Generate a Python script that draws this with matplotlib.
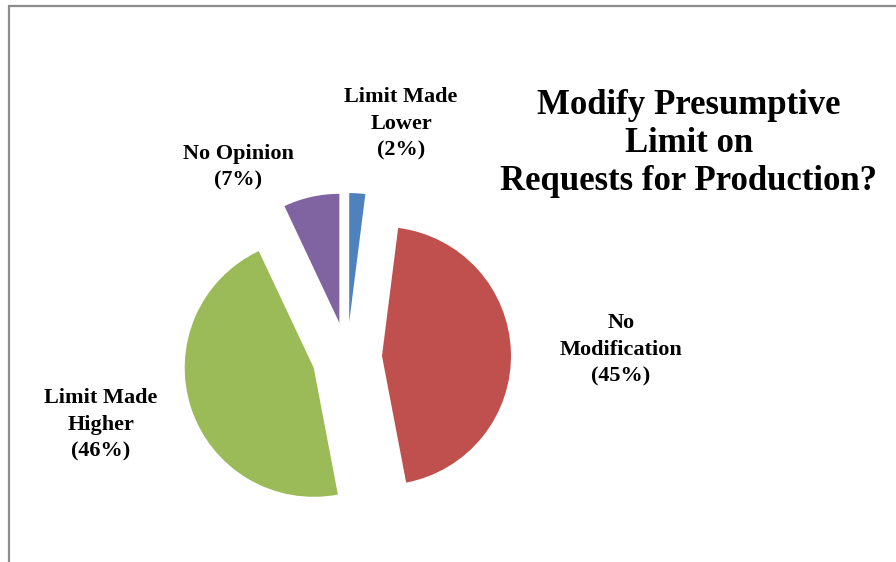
import matplotlib.pyplot as plt
from matplotlib.patches import Rectangle

# Survey answers, clockwise from 12 o'clock
answers = ["Limit Made\nLower", "No\nModification", "Limit Made\nHigher", "No Opinion"]
shares = [2, 45, 46, 7]
colors = ["#4F81BD", "#C0504D", "#9BBB59", "#8064A2"]
title = "Modify Presumptive\nLimit on\nRequests for Production?"

W, H = 896, 562
fig = plt.figure(figsize=(W / 100, H / 100), dpi=100)
ax = fig.add_axes([0, 0, 1, 1])

# pie drawn in pixel units; explode offsets are absolute, not scaled by radius
ax.pie(shares, colors=colors, startangle=90, counterclock=False,
       center=(347, H - 357), radius=129,
       explode=[35, 35, 35, 35],
       wedgeprops=dict(linewidth=0))

ax.set_xlim(0, W)
ax.set_ylim(0, H)
ax.set_aspect("equal")
ax.axis("off")

# chart frame, running off the right and bottom edge
ax.add_patch(Rectangle((8.5, -20), W + 40, H - 6 + 20, fill=False,
                       edgecolor="#8c8c8c", linewidth=1.6))

font = dict(family="Liberation Serif", fontweight="bold", color="black",
            ha="center", va="center")

# label positions around the pie
label_xy = [(401, 124), (621, 350), (101, 425), (238, 167)]
for name, pct, (x, y) in zip(answers, shares, label_xy):
    ax.text(x, H - y, f"{name}\n({pct}%)", fontsize=16, linespacing=1.45, **font)

ax.text(689, H - 144, title, fontsize=25, linespacing=1.2, **font)

fig.savefig("out.png", dpi=100)
